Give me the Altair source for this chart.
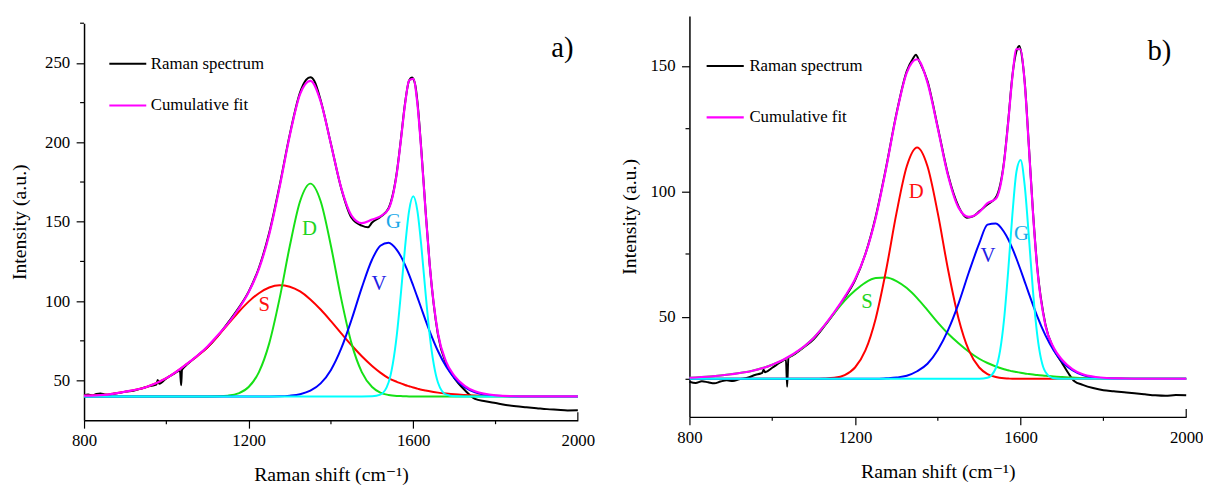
import altair as alt
import pandas as pd

FONT = "Liberation Serif, Times New Roman, DejaVu Serif, serif"

# ---------------- shared x grid for fitted curves (cm-1) ----------------
x_grid = [800, 850, 900, 950, 1000, 1050, 1100, 1125, 1150, 1175, 1200, 1225, 1250, 1275,
          1300, 1325, 1350, 1375, 1400, 1425, 1450, 1475, 1500, 1520, 1540, 1560, 1570, 1580,
          1590, 1600, 1610, 1620, 1630, 1640, 1660, 1680, 1700, 1725, 1750, 1800, 1850, 1900,
          1950, 2000]

# ---------------- panel a) ----------------
a_S = [40.5, 41.0, 43.0, 45.8, 51.5, 60.5, 71.0, 78.0, 85.5, 93.0, 99.7, 105.0, 108.6, 110.0,
       109.1, 106.1, 101.1, 94.7, 87.4, 79.7, 72.2, 65.3, 59.2, 55.0, 51.5, 49.2, 48.2, 47.2,
       46.4, 45.6, 44.9, 44.2, 43.7, 43.2, 42.4, 41.8, 41.3, 40.9, 40.6, 40.3, 40.1, 40.0,
       40.0, 40.0]
a_D = [40, 40, 40, 40, 40, 40, 40, 40.1, 40.5, 41.9, 45.9, 55.3, 73.4, 101.4,
       134.7, 162.9, 174.0, 162.9, 134.7, 101.4, 73.4, 55.3, 45.9, 42.4, 40.9, 40.3, 40.2, 40.1,
       40, 40, 40, 40, 40, 40, 40, 40, 40, 40, 40, 40, 40, 40,
       40, 40]
a_V = [40, 40, 40, 40, 40, 40, 40, 40, 40, 40, 40, 40, 40, 40.1,
       40.5, 41.4, 43.6, 48.2, 56.7, 70.2, 88.3, 108.5, 126.2, 134.9, 136.8, 132.3, 128.2, 122.8,
       116.6, 109.7, 102.5, 95.2, 87.9, 81.0, 68.6, 58.8, 51.6, 45.8, 42.6, 40.4, 40.0, 40,
       40, 40]
a_G = [40, 40, 40, 40, 40, 40, 40, 40, 40, 40, 40, 40, 40, 40,
       40, 40, 40, 40, 40, 40, 40, 40, 40.1, 41.1, 48.8, 78.6, 104.8, 133.7,
       157.0, 166.0, 157.0, 133.7, 104.8, 78.6, 48.8, 41.1, 40.1, 40, 40, 40, 40, 40,
       40, 40]
a_fit = [40.5, 41.0, 43.0, 45.8, 51.5, 60.5, 71.5, 78.5, 86.0, 94.9, 105.6, 120.3, 142.0, 171.5,
         204.3, 230.4, 238.7, 225.8, 198.8, 171.3, 153.9, 149.1, 151.4, 153.4, 158.0, 180.4, 201.4, 223.8,
         239.0, 240.0, 224.4, 193.1, 156.4, 122.8, 79.8, 61.7, 53.0, 46.7, 43.2, 40.7, 40.1, 40.0,
         40.0, 40.0]
a_spec_x = [800, 810, 820, 830, 840, 850, 860, 870, 880, 890, 900, 920, 940, 960, 970, 976, 979, 983,
            1000, 1020, 1033, 1036, 1038, 1040, 1050, 1075, 1100, 1125, 1150, 1175, 1200, 1225, 1250,
            1275, 1300, 1325, 1340, 1350, 1360, 1375, 1400, 1425, 1450, 1475, 1490, 1500, 1520, 1540,
            1560, 1570, 1580, 1590, 1597, 1605, 1610, 1620, 1630, 1640, 1660, 1680, 1700, 1725, 1750,
            1775, 1800, 1825, 1850, 1875, 1900, 1925, 1950, 1975, 2000]
a_spec_y = [40.8, 41.2, 40.6, 41.5, 41.9, 41.3, 41.0, 41.6, 42.0, 42.4, 43.0, 43.6, 45.0, 46.5, 47.0, 47.6, 50.3, 48.0,
            51.4, 54.5, 56.3, 47.0, 56.6, 57.4, 60.0, 65.5, 71.0, 78.0, 86.5, 95.5, 106.0, 121.0, 143.0,
            172.5, 205.0, 231.5, 239.5, 241.0, 238.5, 226.5, 199.0, 171.0, 152.5, 147.5, 146.5, 149.5, 153.0, 158.5,
            181.0, 202.0, 224.5, 239.0, 240.8, 236.0, 226.0, 194.0, 157.0, 123.0, 79.0, 60.5, 51.5, 44.0, 38.5,
            37.0, 35.8, 34.6, 33.8, 33.2, 32.6, 32.0, 31.6, 31.2, 31.3]
a_lab_t = ["S", "D", "V", "G"]
a_lab_x = [1238, 1348, 1517, 1552]
a_lab_y = [97.4, 145.4, 110.9, 149.5]

# ---------------- panel b) ----------------
b_S = [25.6, 26.1, 27.0, 28.3, 30.8, 34.8, 41.5, 46.2, 51.4, 56.4, 60.4, 63.6, 65.4, 65.6,
       64.2, 61.4, 57.4, 52.6, 47.6, 43.2, 39.4, 36.0, 33.2, 31.5, 30.1, 29.0, 28.6, 28.2,
       27.9, 27.6, 27.3, 27.1, 26.9, 26.7, 26.4, 26.1, 25.9, 25.7, 25.5, 25.4, 25.3, 25.2,
       25.2, 25.2]
b_D = [25.2, 25.2, 25.2, 25.2, 25.2, 25.2, 25.2, 25.3, 25.6, 26.7, 29.7, 36.5, 49.3, 68.5,
       91.2, 110.0, 117.5, 110.0, 91.2, 68.5, 49.3, 36.5, 29.7, 27.1, 25.9, 25.4, 25.3, 25.2,
       25.2, 25.2, 25.2, 25.2, 25.2, 25.2, 25.2, 25.2, 25.2, 25.2, 25.2, 25.2, 25.2, 25.2,
       25.2, 25.2]
b_V = [25.2, 25.2, 25.2, 25.2, 25.2, 25.2, 25.2, 25.2, 25.2, 25.2, 25.2, 25.2, 25.2, 25.4,
       25.7, 26.4, 28.2, 31.2, 36.7, 44.7, 55.2, 67.7, 79.2, 86.7, 87.2, 83.8, 80.9, 77.2,
       73.1, 68.6, 63.9, 59.2, 54.6, 50.2, 42.5, 36.5, 32.1, 28.6, 26.7, 25.4, 25.2, 25.2,
       25.2, 25.2]
b_G = [25.2, 25.2, 25.2, 25.2, 25.2, 25.2, 25.2, 25.2, 25.2, 25.2, 25.2, 25.2, 25.2, 25.2,
       25.2, 25.2, 25.2, 25.2, 25.2, 25.2, 25.2, 25.2, 25.2, 25.6, 29.4, 48.9, 68.3, 90.5,
       107.9, 112.5, 102.1, 81.7, 59.9, 42.9, 27.9, 25.4, 25.2, 25.2, 25.2, 25.2, 25.2, 25.2,
       25.2, 25.2]
b_fit = [25.6, 26.1, 27.0, 28.3, 30.8, 35.0, 41.5, 46.3, 51.8, 57.9, 64.9, 74.9, 89.5, 109.1,
         130.7, 147.4, 152.7, 143.4, 125.1, 106.0, 93.5, 89.8, 91.7, 95.3, 97.0, 111.5, 127.5, 145.5,
         156.8, 156.6, 142.9, 117.6, 91.0, 69.4, 46.4, 37.6, 32.8, 29.1, 27.0, 25.6, 25.3, 25.2,
         25.2, 25.2]
b_spec_x = [800, 815, 830, 845, 860, 875, 890, 905, 920, 940, 960, 972, 976, 979, 983, 1000, 1020,
            1033, 1036, 1039, 1050, 1075, 1100, 1125, 1150, 1175, 1200, 1225, 1250, 1275, 1300, 1325,
            1340, 1347, 1355, 1375, 1400, 1425, 1450, 1470, 1485, 1500, 1520, 1540, 1560, 1570, 1580,
            1590, 1597, 1605, 1610, 1620, 1630, 1640, 1660, 1680, 1700, 1715, 1730, 1750, 1775, 1800,
            1825, 1850, 1875, 1900, 1925, 1950, 1975, 2000]
b_spec_y = [24.0, 23.5, 24.2, 23.8, 23.4, 24.1, 24.6, 24.3, 25.0, 25.6, 26.8, 27.3, 27.6, 28.8, 27.8, 29.6, 31.8,
            33.0, 22.0, 33.5, 34.6, 37.6, 41.0, 46.0, 51.5, 57.5, 64.5, 75.0, 90.0, 109.5, 131.0, 148.0,
            153.0, 154.5, 152.0, 144.0, 125.5, 106.5, 94.0, 89.5, 90.0, 92.0, 94.8, 97.5, 112.0, 128.0, 146.0,
            156.0, 158.0, 151.5, 143.5, 118.0, 91.5, 70.0, 46.8, 37.0, 31.5, 27.5, 24.2, 22.8, 21.5, 20.6,
            20.2, 19.8, 19.4, 19.0, 18.6, 18.4, 18.7, 18.6]
b_lab_t = ["D", "S", "V", "G"]
b_lab_x = [1348, 1229, 1521, 1602]
b_lab_y = [99.9, 55.8, 74.2, 82.8]

# tick values
x_major = [800, 1200, 1600, 2000]
x_minor = [1000, 1400, 1800]
a_y_major = [50, 100, 150, 200, 250]
a_y_minor = [75, 125, 175, 225, 275]
b_y_major = [50, 100, 150]
b_y_minor = [25, 75, 125]

RED, GREEN, BLUE, CYAN, MAG = "#ff0000", "#16e016", "#0000ff", "#00ffff", "#ff00ff"
LAB_COL = {"red": "#ff1010", "green": "#1ed41e", "blue": "#2020e6", "g": "#1aa8e8"}


def panel(W, H, off, ydom, ymaj, ymin, tpad, spec_x, spec_y, comps, fit, labels, leg, tag, tagpos):
    HT = H + off
    X = alt.X("x:Q", scale=alt.Scale(domain=[800, 2000], nice=False, zero=False),
              axis=alt.Axis(values=x_major, format="d", title="Raman shift (cm⁻¹)",
                            tickOpacity={"condition": {"test": "datum.value == 2000", "value": 0}, "value": 1}))
    Y = alt.Y("y:Q", scale=alt.Scale(domain=ydom, nice=False, zero=False, range=[HT, off]),
              axis=alt.Axis(values=ymaj, format="d", title="Intensity (a.u.)", titlePadding=tpad))

    def line(xv, yv, color, w=2.0):
        df = pd.DataFrame({"x": xv, "y": yv})
        return alt.Chart(df).mark_line(color=color, strokeWidth=w, interpolate="monotone").encode(x=X, y=Y)

    layers = [line(spec_x, spec_y, "black", 2.0)]
    for yv, col in comps:
        layers.append(line(x_grid, yv, col, 2.0))
    layers.append(line(x_grid, fit, MAG, 2.2))

    # peak labels
    ldf = pd.DataFrame({"x": labels[1], "y": labels[2], "t": labels[0], "c": labels[3]})
    layers.append(alt.Chart(ldf).mark_text(font=FONT, fontSize=21, baseline="middle", align="center")
                  .encode(x=X, y=Y, text="t:N", color=alt.Color("c:N", scale=None)))

    # minor ticks
    mx = pd.DataFrame({"x": x_minor})
    layers.append(alt.Chart(mx).mark_rule(color="black", strokeWidth=1.2)
                  .encode(x=X, y=alt.value(HT), y2=alt.value(HT + 4)))
    rx = pd.DataFrame({"x": [2000]})
    layers.append(alt.Chart(rx).mark_rule(color="black", strokeWidth=1.2)
                  .encode(x=X, y=alt.value(HT), y2=alt.value(HT - 8)))
    my = pd.DataFrame({"y": ymin})
    layers.append(alt.Chart(my).mark_rule(color="black", strokeWidth=1.2)
                  .encode(y=Y, x=alt.value(0), x2=alt.value(-4)))

    # legend
    one = pd.DataFrame({"k": [0]})
    (lx1, lx2, ly1, ly2, tx) = leg
    layers.append(alt.Chart(one).mark_rule(color="black", strokeWidth=2.2)
                  .encode(x=alt.value(lx1), x2=alt.value(lx2), y=alt.value(ly1 + off)))
    layers.append(alt.Chart(one).mark_rule(color=MAG, strokeWidth=2.2)
                  .encode(x=alt.value(lx1), x2=alt.value(lx2), y=alt.value(ly2 + off)))
    layers.append(alt.Chart(one).mark_text(text="Raman spectrum", font=FONT, fontSize=17, align="left",
                                           baseline="middle", color="black")
                  .encode(x=alt.value(tx), y=alt.value(ly1 + off)))
    layers.append(alt.Chart(one).mark_text(text="Cumulative fit", font=FONT, fontSize=17, align="left",
                                           baseline="middle", color="black")
                  .encode(x=alt.value(tx), y=alt.value(ly2 + off)))
    # panel tag
    layers.append(alt.Chart(one).mark_text(text=tag, font=FONT, fontSize=29, align="left",
                                           baseline="alphabetic", color="black")
                  .encode(x=alt.value(tagpos[0]), y=alt.value(tagpos[1] + off)))
    return alt.layer(*layers).properties(width=W, height=HT)


pa = panel(500, 402, 7.4, [25, 275], a_y_major, a_y_minor, 15,
           a_spec_x, a_spec_y,
           [(a_S, RED), (a_D, GREEN), (a_V, BLUE), (a_G, CYAN)], a_fit,
           (a_lab_t, a_lab_x, a_lab_y, [LAB_COL["red"], LAB_COL["green"], LAB_COL["blue"], LAB_COL["g"]]),
           (25.6, 63, 41, 83.3, 67.6), "a)", (473, 34.3))

pb = panel(503, 406, 0, [10, 170], b_y_major, b_y_minor, 11,
           b_spec_x, b_spec_y,
           [(b_S, GREEN), (b_D, RED), (b_V, BLUE), (b_G, CYAN)], b_fit,
           (b_lab_t, b_lab_x, b_lab_y, [LAB_COL["red"], LAB_COL["green"], LAB_COL["blue"], LAB_COL["g"]]),
           (17.4, 55, 50.7, 102.7, 60.7), "b)", (463.8, 45))

chart = (alt.hconcat(pa, pb, spacing=25)
         .properties(padding={"left": 2, "top": 5, "right": 0, "bottom": 0})
         .configure_view(stroke=None)
         .configure_axis(labelFont=FONT, labelFontSize=17, labelColor="black",
                         titleFont=FONT, titleFontSize=20, titleFontWeight="normal", titleColor="black",
                         domainColor="black", domainWidth=1.5, tickColor="black", tickWidth=1.2,
                         tickSize=8, grid=False, labelFlush=False)
         .configure_axisX(labelPadding=4.5, titlePadding=17)
         .configure_axisY(labelPadding=6.5))

chart.save("out.html", embed_options={"renderer": "svg", "actions": False})
